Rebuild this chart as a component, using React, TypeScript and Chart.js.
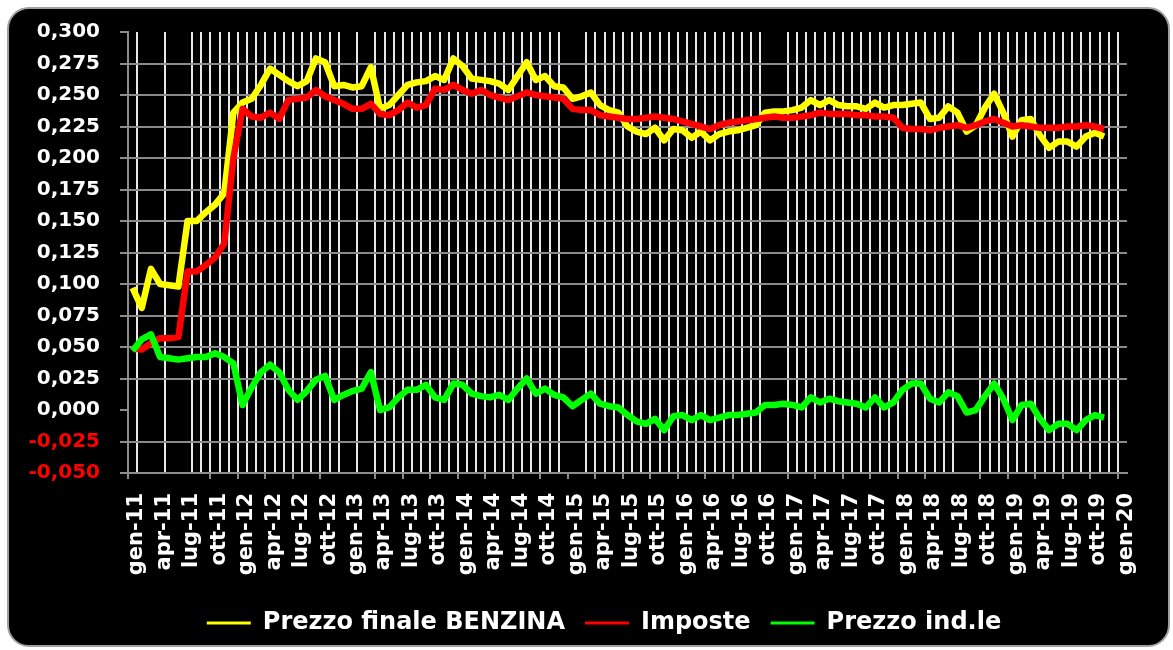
import React, { useEffect, useRef } from 'react';
import { Chart, registerables } from 'chart.js';

Chart.register(...registerables);

const MONTHS = ['gen', 'feb', 'mar', 'apr', 'mag', 'giu', 'lug', 'ago', 'set', 'ott', 'nov', 'dic'];
const YEARS = ['11', '12', '13', '14', '15', '16', '17', '18', '19', '20'];
const CATEGORY_COUNT = 109; // gen-11 .. gen-20
const categories: string[] = YEARS.flatMap((y) => MONTHS.map((m) => `${m}-${y}`)).slice(0, CATEGORY_COUNT);

const prezzoFinale = [
  0.097, 0.081, 0.112, 0.100, 0.099, 0.098, 0.150, 0.150, 0.157, 0.163, 0.172, 0.236,
  0.244, 0.247, 0.258, 0.271, 0.266, 0.261, 0.257, 0.261, 0.279, 0.276, 0.257, 0.258,
  0.256, 0.257, 0.272, 0.239, 0.242, 0.250, 0.258, 0.260, 0.261, 0.265, 0.262, 0.279,
  0.273, 0.263, 0.262, 0.261, 0.259, 0.254, 0.265, 0.276, 0.262, 0.265, 0.257, 0.256,
  0.247, 0.249, 0.252, 0.242, 0.238, 0.236, 0.225, 0.221, 0.219, 0.224, 0.214, 0.223,
  0.222, 0.216, 0.221, 0.214, 0.219, 0.221, 0.222, 0.224, 0.226, 0.236, 0.237, 0.237,
  0.238, 0.240, 0.246, 0.242, 0.246, 0.242, 0.241, 0.241, 0.239, 0.244, 0.240, 0.242,
  0.242, 0.243, 0.244, 0.231, 0.232, 0.241, 0.236, 0.221, 0.226, 0.240, 0.251, 0.236,
  0.217, 0.230, 0.231, 0.218, 0.208, 0.213, 0.213, 0.209, 0.217, 0.220, 0.217,
];

const imposte = [
  0.049, 0.048, 0.053, 0.057, 0.057, 0.058, 0.110, 0.110, 0.115, 0.121, 0.132, 0.200,
  0.239, 0.233, 0.232, 0.236, 0.231, 0.246, 0.247, 0.248, 0.254, 0.249, 0.246, 0.243,
  0.239, 0.239, 0.243, 0.235, 0.234, 0.238, 0.244, 0.240, 0.242, 0.255, 0.254, 0.258,
  0.254, 0.251, 0.254, 0.250, 0.248, 0.246, 0.249, 0.252, 0.250, 0.249, 0.248, 0.247,
  0.239, 0.238, 0.238, 0.234, 0.233, 0.232, 0.231, 0.231, 0.232, 0.233, 0.232, 0.231,
  0.229, 0.227, 0.225, 0.223, 0.226, 0.228, 0.229, 0.230, 0.231, 0.232, 0.233, 0.232,
  0.232, 0.233, 0.234, 0.236, 0.235, 0.235, 0.235, 0.234, 0.234, 0.233, 0.233, 0.232,
  0.224, 0.223, 0.223, 0.222, 0.224, 0.225, 0.226, 0.224, 0.226, 0.229, 0.231, 0.228,
  0.225, 0.226, 0.225, 0.224, 0.224, 0.224, 0.225, 0.225, 0.226, 0.225, 0.223,
];

const prezzoIndustriale = [
  0.047, 0.056, 0.060, 0.042, 0.041, 0.040, 0.041, 0.042, 0.042, 0.045, 0.042, 0.037,
  0.004, 0.018, 0.030, 0.036, 0.030, 0.016, 0.008, 0.015, 0.024, 0.027, 0.008, 0.012,
  0.015, 0.017, 0.030, 0.000, 0.002, 0.010, 0.016, 0.016, 0.020, 0.010, 0.008, 0.021,
  0.020, 0.013, 0.011, 0.010, 0.012, 0.008, 0.017, 0.025, 0.013, 0.017, 0.012, 0.010,
  0.003, 0.008, 0.013, 0.005, 0.003, 0.002, -0.004, -0.009, -0.011, -0.007, -0.016, -0.005,
  -0.004, -0.008, -0.004, -0.008, -0.006, -0.004, -0.004, -0.003, -0.002, 0.004, 0.004, 0.005,
  0.004, 0.002, 0.010, 0.006, 0.009, 0.007, 0.006, 0.005, 0.002, 0.010, 0.002, 0.006,
  0.016, 0.021, 0.021, 0.009, 0.006, 0.014, 0.011, -0.002, 0.000, 0.011, 0.021, 0.009,
  -0.008, 0.004, 0.005, -0.007, -0.016, -0.011, -0.011, -0.016, -0.008, -0.004, -0.006,
];

const Y_MIN = -0.05;
const Y_MAX = 0.3;
const Y_STEP = 0.025;
const LABEL_EVERY = 3;

// month boundaries whose gridline / tick mark is not drawn in the original rendering
const HIDDEN_GRID = [0, 2, 3, 5, 6, 24, 26, 48, 49, 70, 71, 91, 92];
const HIDDEN_TICKS = [3, 6, 24, 69, 90];

const FONT = "'DejaVu Sans', Verdana, sans-serif";

const fmt = (v: number) => {
  const n = Math.abs(v) < 1e-9 ? 0 : v;
  return n.toFixed(3).replace('.', ',');
};

// places the legend row over a chosen horizontal span
const legendSpan = {
  id: 'legendSpan',
  afterLayout(chart: any) {
    const lg = chart.legend;
    if (!lg) return;
    lg.left = 81;
    lg.right = 1127;
  },
};

export default function App() {
  const canvasRef = useRef<HTMLCanvasElement | null>(null);

  useEffect(() => {
    const canvas = canvasRef.current;
    if (!canvas) return;
    const mk = (label: string, data: number[], color: string, order: number) => ({
      label,
      data,
      borderColor: color,
      backgroundColor: color,
      borderWidth: 6.5,
      pointRadius: 0,
      tension: 0,
      borderJoinStyle: 'round' as const,
      order,
    });
    const chart = new Chart(canvas, {
      type: 'line',
      data: {
        labels: categories,
        datasets: [
          mk('Prezzo finale BENZINA', prezzoFinale, '#ffff00', 3),
          mk('Imposte', imposte, '#ff0000', 2),
          mk('Prezzo ind.le', prezzoIndustriale, '#00ff00', 1),
        ],
      },
      plugins: [legendSpan],
      options: {
        animation: false,
        responsive: false,
        devicePixelRatio: 1,
        layout: { padding: { left: 0, right: 46, top: 30, bottom: 5 } },
        plugins: {
          tooltip: { enabled: false },
          legend: {
            position: 'bottom',
            labels: {
              color: '#ffffff',
              font: { family: FONT, weight: 'bold', size: 24 },
              boxWidth: 44,
              boxHeight: 3,
              padding: 20,
              generateLabels: (c: any) =>
                c.data.datasets.map((ds: any, i: number) => ({
                  text: ds.label,
                  fillStyle: ds.borderColor,
                  strokeStyle: ds.borderColor,
                  lineWidth: 0,
                  hidden: false,
                  datasetIndex: i,
                  fontColor: '#ffffff',
                })),
            },
          },
        },
        scales: {
          x: {
            type: 'category',
            offset: true,
            afterFit: (s: any) => {
              s.height = 118;
            },
            grid: {
              offset: true,
              lineWidth: 2,
              color: (ctx: any) => {
                const k = ctx.index;
                if (k === undefined || HIDDEN_GRID.includes(k)) return 'rgba(0,0,0,0)';
                return '#e8e8e8';
              },
              tickLength: 6,
              tickWidth: 2,
              tickColor: (ctx: any) => {
                const k = ctx.index;
                if (k === undefined || k % LABEL_EVERY !== 0 || HIDDEN_TICKS.includes(k)) return 'rgba(0,0,0,0)';
                return '#8c8c8c';
              },
            },
            border: { display: true, color: '#8c8c8c', width: 2 },
            ticks: {
              autoSkip: false,
              minRotation: 90,
              maxRotation: 90,
              padding: 14,
              labelOffset: 4,
              color: '#ffffff',
              font: { family: FONT, weight: 'bold', size: 21 },
              callback: (_v: any, i: number) => (i % LABEL_EVERY === 0 ? categories[i] : ''),
            },
          },
          y: {
            min: Y_MIN,
            max: Y_MAX,
            afterFit: (s: any) => {
              s.width = 128;
            },
            grid: {
              lineWidth: 2,
              color: (ctx: any) => {
                const v = ctx.tick ? ctx.tick.value : NaN;
                if (Math.abs(v) < 1e-9 || Math.abs(v - Y_MAX) < 1e-9) return 'rgba(0,0,0,0)';
                return '#8a8a8a';
              },
              tickLength: 8,
              tickWidth: 2,
              tickColor: '#8c8c8c',
            },
            border: { display: true, color: '#8c8c8c', width: 2 },
            ticks: {
              stepSize: Y_STEP,
              padding: 20,
              color: (ctx: any) => (ctx.tick && ctx.tick.value < -1e-9 ? '#ff0000' : '#ffffff'),
              font: { family: FONT, weight: 'bold', size: 20 },
              callback: (v: any) => fmt(Number(v)),
            },
          },
        },
      },
    });
    return () => chart.destroy();
  }, []);

  return (
    <div style={{ position: 'absolute', left: 0, top: 0, width: 1173, height: 650, background: '#ffffff', overflow: 'hidden' }}>
      <div
        style={{
          position: 'absolute',
          left: 7,
          top: 7,
          width: 1159,
          height: 636,
          background: '#000000',
          border: '2px solid #a0a0a0',
          borderRadius: 22,
        }}
      />
      <canvas
        ref={canvasRef}
        width={1173}
        height={650}
        style={{ position: 'absolute', left: 0, top: 0, width: 1173, height: 650 }}
      />
    </div>
  );
}
